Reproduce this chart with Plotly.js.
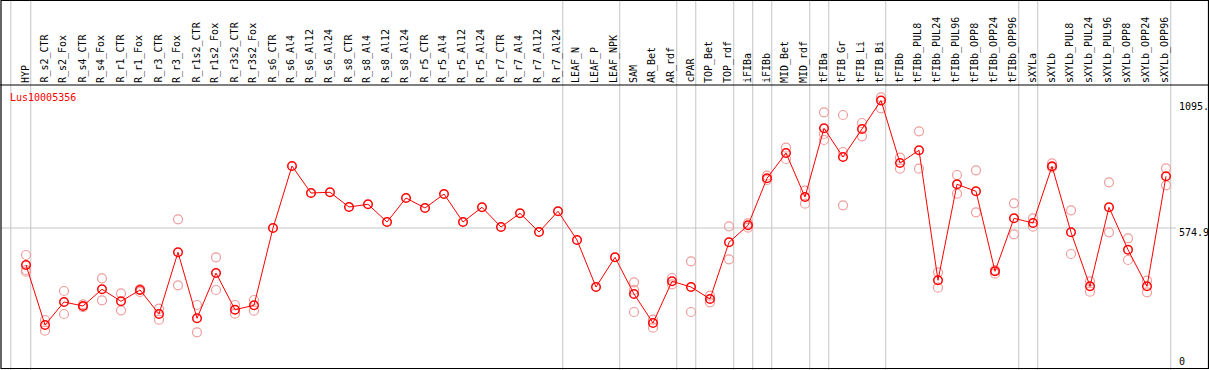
<!DOCTYPE html>
<html>
<head>
<meta charset="utf-8">
<script src="https://cdn.plot.ly/plotly-3.0.1.min.js"></script>
<style>html,body{margin:0;padding:0;background:#fff;}#chart{width:1209px;height:370px;}</style>
</head>
<body>
<div id="chart"></div>
<script>
var categories = ["HYP","R_s2_CTR","R_s2_Fox","R_s4_CTR","R_s4_Fox","R_r1_CTR","R_r1_Fox","R_r3_CTR","R_r3_Fox","R_r1s2_CTR","R_r1s2_Fox","R_r3s2_CTR","R_r3s2_Fox","R_s6_CTR","R_s6_Al4","R_s6_Al12","R_s6_Al24","R_s8_CTR","R_s8_Al4","R_s8_Al12","R_s8_Al24","R_r5_CTR","R_r5_Al4","R_r5_Al12","R_r5_Al24","R_r7_CTR","R_r7_Al4","R_r7_Al12","R_r7_Al24","LEAF_N","LEAF_P","LEAF_NPK","SAM","AR_Bet","AR_rdf","cPAR","TOP_Bet","TOP_rdf","iFIBa","iFIBb","MID_Bet","MID_rdf","tFIBa","tFIB_Gr","tFIB_Li","tFIB_Bi","tFIBb","tFIBb_PUL8","tFIBb_PUL24","tFIBb_PUL96","tFIBb_OPP8","tFIBb_OPP24","tFIBb_OPP96","sXYLa","sXYLb","sXYLb_PUL8","sXYLb_PUL24","sXYLb_PUL96","sXYLb_OPP8","sXYLb_OPP24","sXYLb_OPP96"];

var meanValues = [424.0,179.4,273.2,256.9,325.0,276.0,322.1,224.3,475.8,206.7,391.4,241.8,259.7,
574.9,827.7,717.6,720.5,660.5,671.5,599.4,697.2,656.4,713.5,599.4,659.3,579.0,634.8,558.6,643.0,
526.0,334.3,455.4,
305.8,187.6,357.6,334.3,285.4,516.6,585.9,777.5,880.7,701.3,981.4,864.4,978.6,1095.0,
839.9,891.7,361.7,753.1,724.5,398.4,614.4,
595.3,826.5,557.4,337.2,659.3,486.4,337.2,785.7];

var replicate1 = [464.8,199.8,318.0,263.8,369.8,308.7,326.2,245.9,610.4,261.0,455.4,261.0,281.3,
null,null,null,null,null,null,null,null,null,null,null,null,null,null,null,null,
null,null,null,
353.5,201.0,371.0,439.1,298.9,581.8,594.1,788.1,902.3,727.0,1046.6,1035.6,1003.0,1107.8,
861.5,969.2,394.3,791.0,810.2,403.7,675.6,
614.4,838.7,647.1,357.6,761.2,532.9,360.0,818.3];

var replicate2 = [403.7,156.2,224.3,252.0,280.1,239.3,314.0,201.0,341.3,149.6,322.1,225.5,237.7,
null,null,null,null,null,null,null,null,null,null,null,null,null,null,null,null,
null,null,null,
232.4,168.4,345.3,232.4,272.0,447.3,576.1,770.6,856.2,674.0,933.7,667.5,948.8,1062.9,
816.7,816.7,331.5,714.8,638.9,388.6,549.2,
580.2,822.4,468.9,315.2,557.4,444.4,312.7,749.0];

var replicate3 = [396.7,null,null,null,null,null,null,null,null,null,null,null,null,
null,null,null,null,null,null,null,null,null,null,null,null,null,null,null,null,
null,null,null,
322.1,null,null,null,null,null,null,null,null,null,958.2,884.8,null,null,
null,null,null,null,null,null,null,
null,null,null,null,null,null,null,null];

var groupBoundaries = [-0.8,0.25,28.25,31.25,34.25,35.25,37.25,38.25,39.25,41.25,42.25,45.25,52.25,53.25,60.25];
var yTickLabels = ["1095.","574.9","0"];
var geneName = "Lus10005356";

var W = 1209, H = 370;
var xIdx = categories.map(function(_, i){ return i; });
var yMax = 1149.8;
function py(p){ return (H - p) / H; }
function px(p){ return p / W; }

var repStyle = {type:'scatter', mode:'markers', x:xIdx, showlegend:false, hoverinfo:'skip', cliponaxis:false,
  marker:{symbol:'circle-open', size:9, color:'#f09c9c', line:{width:1.2, color:'#f09c9c'}}};
var traces = [
  Object.assign({}, repStyle, {y:replicate1}),
  Object.assign({}, repStyle, {y:replicate2}),
  Object.assign({}, repStyle, {y:replicate3}),
  {type:'scatter', mode:'lines+markers', x:xIdx, y:meanValues, showlegend:false, cliponaxis:false,
   line:{color:'#ff0000', width:1},
   marker:{symbol:'circle-open', size:8.5, color:'#ff0000', line:{width:1.5, color:'#ff0000'}}}
];

var shapes = [];
groupBoundaries.forEach(function(b){
  shapes.push({type:'line', xref:'x', yref:'paper', x0:b, x1:b, y0:0, y1:1, layer:'below',
    line:{color:'#c4c4c4', width:1}});
});
shapes.push({type:'line', xref:'paper', yref:'y', x0:px(1), x1:px(1176), y0:574.9, y1:574.9, layer:'below',
  line:{color:'#c4c4c4', width:1}});
shapes.push({type:'line', xref:'paper', yref:'paper', x0:0, x1:1, y0:py(85), y1:py(85), line:{color:'#000', width:1.2}});
shapes.push({type:'rect', xref:'paper', yref:'paper', x0:px(1), x1:px(1208.5), y0:py(368.5), y1:py(0.5), line:{color:'#000', width:1.2}});

var annotations = [];
categories.forEach(function(c, i){
  annotations.push({xref:'x', yref:'paper', x:i - 0.05, y:py(84), text:c, showarrow:false,
    textangle:-90, xanchor:'center', yanchor:'bottom', borderpad:0,
    font:{family:'DejaVu Sans Mono, monospace', size:10, color:'#000'}});
});
annotations.push({xref:'paper', yref:'paper', x:px(9), y:py(98), text:geneName, showarrow:false,
  xanchor:'left', yanchor:'middle', borderpad:0,
  font:{family:'DejaVu Sans Mono, monospace', size:10, color:'#ff0000'}});
var yLabelPos = [106.7, 232.7, 361.7];
yTickLabels.forEach(function(t, k){
  annotations.push({xref:'paper', yref:'paper', x:px(1178), y:py(yLabelPos[k]), text:t, showarrow:false,
    xanchor:'left', yanchor:'middle', borderpad:0,
    font:{family:'DejaVu Sans Mono, monospace', size:10, color:'#000'}});
});

var layout = {
  width:W, height:H, margin:{l:0, r:0, t:0, b:0},
  paper_bgcolor:'#fff', plot_bgcolor:'rgba(0,0,0,0)',
  xaxis:{range:[-26/19, (W-26)/19], domain:[0,1], showgrid:false, zeroline:false, showticklabels:false, ticks:'', showline:false, fixedrange:true},
  yaxis:{range:[0, yMax], domain:[py(369), py(87)], showgrid:false, zeroline:false, showticklabels:false, ticks:'', showline:false, fixedrange:true},
  shapes:shapes, annotations:annotations, showlegend:false
};
Plotly.newPlot('chart', traces, layout, {staticPlot:true, displayModeBar:false});
</script>
</body>
</html>
